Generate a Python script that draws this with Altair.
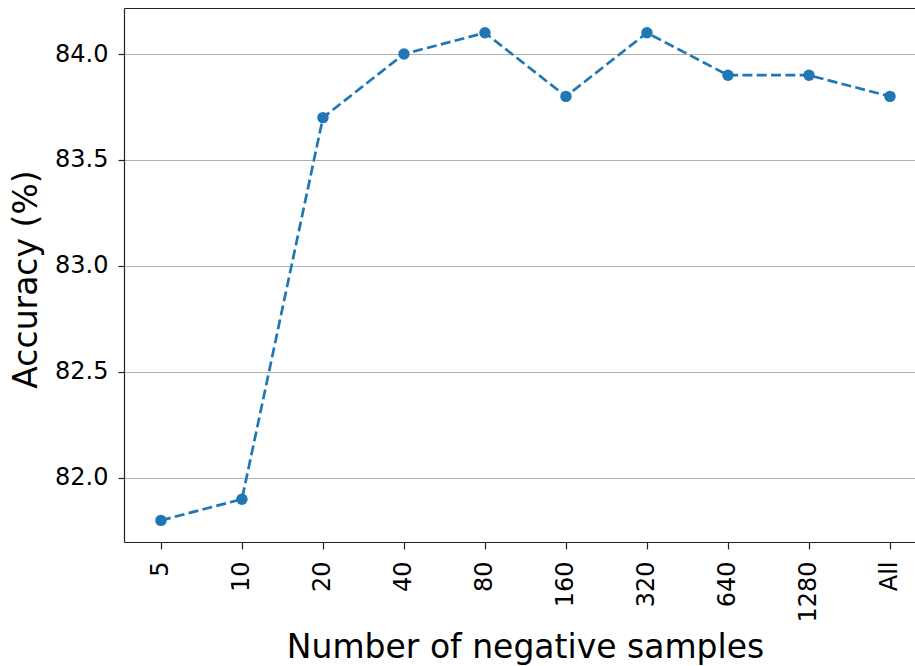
import json
import altair as alt
import pandas as pd

categories = ["5", "10", "20", "40", "80", "160", "320", "640", "1280", "All"]
accuracy = [81.8, 81.9, 83.7, 84.0, 84.1, 83.8, 84.1, 83.9, 83.9, 83.8]
y_ticks = [82.0, 82.5, 83.0, 83.5, 84.0]

df = pd.DataFrame({"idx": list(range(len(categories))), "cat": categories, "acc": accuracy})

label_expr = json.dumps(categories) + "[round(datum.value)]"
FONT = "DejaVu Sans"
BLUE = "#1f77b4"

x_scale = alt.Scale(domain=[-0.456, 9.309], nice=False, zero=False)
y_scale = alt.Scale(domain=[81.698, 84.217], nice=False, zero=False)

y_axis = alt.Axis(
    values=y_ticks, format=".1f", labelFontSize=24, labelFont=FONT,
    labelColor="#000", labelPadding=10, tickSize=6, tickColor="#222",
    tickWidth=1.2, domainColor="#222", domainWidth=1.2,
    grid=True, gridColor="#b0b0b0", gridWidth=1.1,
    title="Accuracy (%)", titleFont=FONT, titleFontSize=33,
    titleFontWeight="normal", titleColor="#000", titleAngle=270,
    titleX=-88, titleY=271, titleAlign="center", titleBaseline="alphabetic",
    labelFlush=False)

line = alt.Chart(df).mark_line(
    color=BLUE, strokeWidth=2.7, strokeDash=[10, 4.3]
).encode(
    x=alt.X("idx:Q", scale=x_scale,
            axis=alt.Axis(
                orient="bottom", values=list(range(len(categories))), labelExpr=label_expr,
                labelAngle=270, labelFontSize=24, labelFont=FONT, labelColor="#000",
                labelPadding=12, tickSize=7, tickColor="#222", tickWidth=1.2,
                domainColor="#222", domainWidth=1.2, grid=False,
                title="Number of negative samples", titleFont=FONT, titleFontSize=33,
                titleFontWeight="normal", titleColor="#000",
                titleX=401, titleY=115, titleAlign="center", titleBaseline="alphabetic",
                labelOverlap=False, labelFlush=False)),
    y=alt.Y("acc:Q", scale=y_scale, axis=y_axis),
)

points = alt.Chart(df).mark_circle(color=BLUE, size=130, opacity=1).encode(
    x=alt.X("idx:Q", scale=x_scale,
            axis=alt.Axis(orient="top", labels=False, ticks=False, grid=False, title=None,
                          domainColor="#222", domainWidth=1.2)),
    y=alt.Y("acc:Q", scale=y_scale, axis=y_axis),
)

chart = alt.layer(line, points).resolve_axis(x="independent").properties(
    width=791, height=534,
    autosize=alt.AutoSizeParams(type="none"),
    padding={"left": 124, "top": 8, "right": 0, "bottom": 124},
).configure_view(stroke=None)

chart.save("out.html", embed_options={"renderer": "svg", "actions": False})
